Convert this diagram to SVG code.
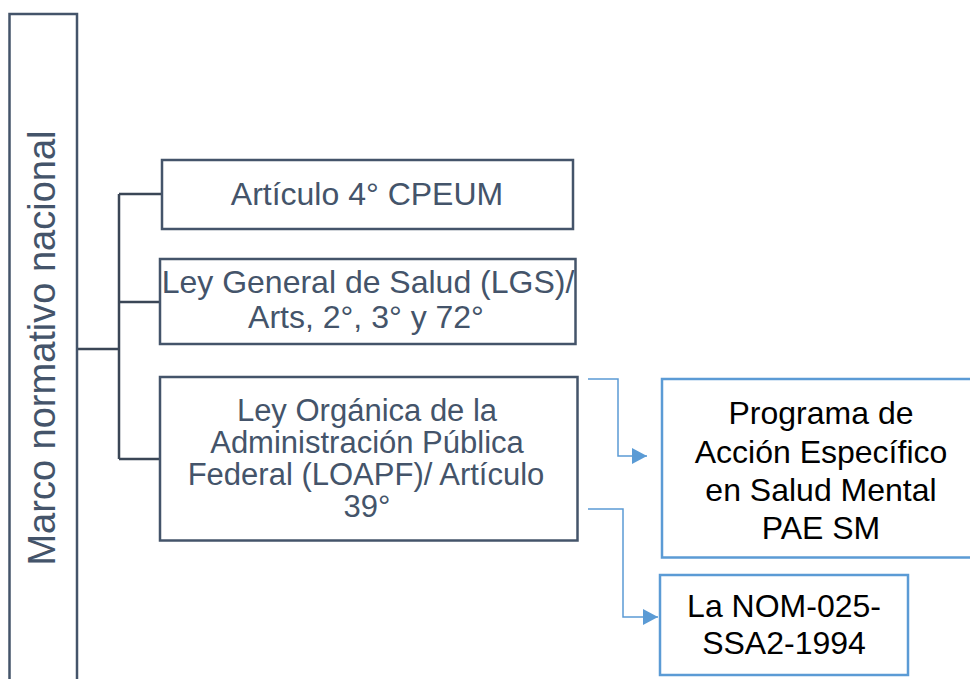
<svg xmlns="http://www.w3.org/2000/svg" width="970" height="679" viewBox="0 0 970 679">
<defs>
<style>
.lbox{fill:#ffffff;stroke:#44546A;stroke-width:2.5}
.rbox{fill:#ffffff;stroke:#5B9BD5;stroke-width:2.5}
.lt{font-family:"Liberation Sans",Arial,sans-serif;font-size:32px;fill:#44546A;text-anchor:middle}
.rt{font-family:"Liberation Sans",Arial,sans-serif;font-size:32px;fill:#000000;text-anchor:middle}
.conn{fill:none;stroke:#3A4656;stroke-width:2.5}
.bconn{fill:none;stroke:#5B9BD5;stroke-width:1.5}
</style>
<marker id="arr" markerUnits="userSpaceOnUse" markerWidth="15" markerHeight="16" refX="15" refY="8" orient="auto">
<path d="M0,0 L15,8 L0,16 z" fill="#5B9BD5"/>
</marker>
</defs>
<rect width="970" height="679" fill="#ffffff"/>
<g id="connectors">
<path class="conn" d="M77,349 H119"/>
<path class="conn" d="M119,194 V459"/>
<path class="conn" d="M119,194 H162"/>
<path class="conn" d="M119,302 H160"/>
<path class="conn" d="M119,459 H160"/>
<path class="bconn" d="M588,379 H618 V456 H647" marker-end="url(#arr)"/>
<path class="bconn" d="M588,509 H623 V617 H658" marker-end="url(#arr)"/>
</g>
<g id="marco">
<rect class="lbox" x="9.5" y="14" width="67.5" height="680"/>
<text transform="translate(55,348) rotate(-90)" style="font-family:'Liberation Sans',Arial,sans-serif;font-size:38px;fill:#44546A;text-anchor:middle">Marco normativo nacional</text>
</g>
<g id="art4">
<rect class="lbox" x="162" y="160" width="411" height="69"/>
<text class="lt" x="367" y="205">Artículo 4° CPEUM</text>
</g>
<g id="lgs">
<rect class="lbox" x="160" y="259" width="415.5" height="85"/>
<text class="lt" x="368" y="293">Ley General de Salud (LGS)/</text>
<text class="lt" x="366" y="328">Arts, 2°, 3° y 72°</text>
</g>
<g id="loapf">
<rect class="lbox" x="160" y="377" width="417.5" height="163.5"/>
<text class="lt" x="367" y="421" style="font-size:31px">Ley Orgánica de la</text>
<text class="lt" x="367" y="453" style="font-size:31px">Administración Pública</text>
<text class="lt" x="366" y="485" style="font-size:31px">Federal (LOAPF)/ Artículo</text>
<text class="lt" x="367" y="517" style="font-size:31px">39°</text>
</g>
<g id="pae">
<rect class="rbox" x="662" y="379" width="318" height="178.5"/>
<text class="rt" x="821" y="424">Programa de</text>
<text class="rt" x="821" y="463">Acción Específico</text>
<text class="rt" x="821" y="501">en Salud Mental</text>
<text class="rt" x="821" y="539">PAE SM</text>
</g>
<g id="nom">
<rect class="rbox" x="660" y="575" width="248" height="100"/>
<text class="rt" x="784" y="617">La NOM-025-</text>
<text class="rt" x="784" y="654">SSA2-1994</text>
</g>
</svg>
